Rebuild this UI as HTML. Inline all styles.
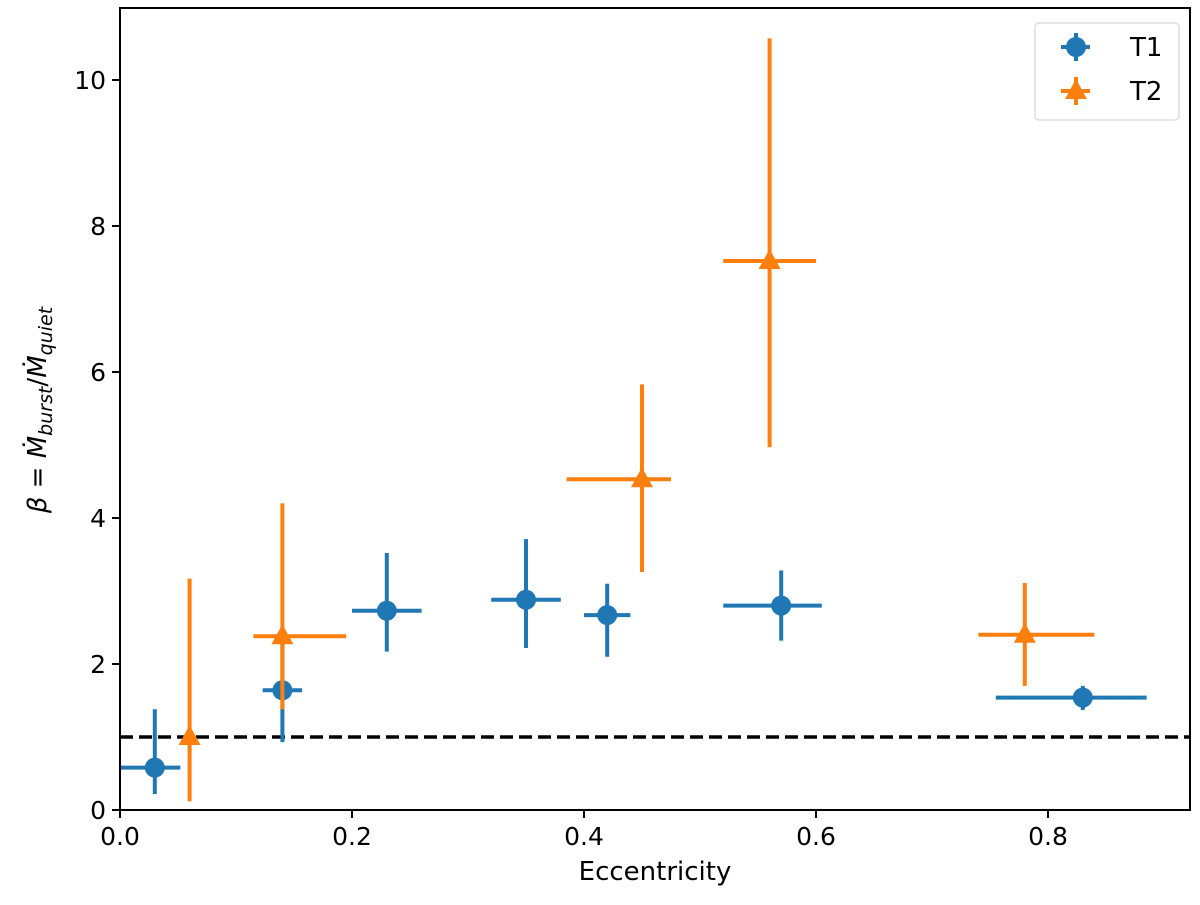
<!DOCTYPE html>
<html><head><meta charset="utf-8"><style>body{margin:0;background:#fff}svg{display:block;font-family:"DejaVu Sans","Liberation Sans",sans-serif}</style></head>
<body>
<svg id="chart" width="1200" height="905"></svg>
<script>
const t1X=[0.03,0.14,0.23,0.35,0.42,0.57,0.83];
const t1Y=[0.58,1.64,2.73,2.88,2.67,2.8,1.54];
const t1XLo=[0.0,0.123,0.2,0.32,0.4,0.52,0.755];
const t1XHi=[0.052,0.157,0.26,0.38,0.44,0.605,0.885];
const t1YLo=[0.22,0.93,2.17,2.22,2.1,2.32,1.37];
const t1YHi=[1.38,2.3,3.52,3.71,3.1,3.28,1.7];
const t2X=[0.06,0.14,0.45,0.56,0.78];
const t2Y=[1.0,2.38,4.53,7.52,2.4];
const t2XLo=[0.06,0.115,0.385,0.52,0.74];
const t2XHi=[0.06,0.195,0.475,0.6,0.84];
const t2YLo=[0.12,1.38,3.26,4.97,1.7];
const t2YHi=[3.17,4.2,5.83,10.57,3.11];
const xTicks=[0,0.2,0.4,0.6,0.8];
const xTickLabels=["0.0","0.2","0.4","0.6","0.8"];
const yTicks=[0,2,4,6,8,10];
const yTickLabels=["0","2","4","6","8","10"];
const refLine=1;

const L=120,R=1190,T=8,B=810;
const sx=v=>L+v*1160;
const sy=v=>B-v*73;
const svg=document.getElementById('chart');
const NS='http://www.w3.org/2000/svg';
function mk(tag,attrs,parent){const e=document.createElementNS(NS,tag);for(const k in attrs)e.setAttribute(k,attrs[k]);(parent||svg).appendChild(e);return e;}

const dash=mk('line',{x1:L,x2:R,y1:sy(refLine),y2:sy(refLine),stroke:'#000','stroke-width':3.5,'stroke-dasharray':'13,6'});



function series(xs,ys,xl,xh,yl,yh,color,shape,name){
  const g=mk('g',{});
  
  
  for(let i=0;i<xs.length;i++){
    const pg=mk('g',{},g);
    
    
    mk('line',{x1:sx(xl[i]),x2:sx(xh[i]),y1:sy(ys[i]),y2:sy(ys[i]),stroke:color,'stroke-width':4},pg);
    mk('line',{x1:sx(xs[i]),x2:sx(xs[i]),y1:sy(yl[i]),y2:sy(yh[i]),stroke:color,'stroke-width':4},pg);
    const cx=sx(xs[i]),cy=sy(ys[i]);
    if(shape==='c')mk('circle',{cx:cx,cy:cy,r:10,fill:color},pg);
    else mk('polygon',{points:`${cx},${cy-12} ${cx+11},${cy+8} ${cx-11},${cy+8}`,fill:color},pg);
  }
}
series(t1X,t1Y,t1XLo,t1XHi,t1YLo,t1YHi,'#1f77b4','c','t1');
series(t2X,t2Y,t2XLo,t2XHi,t2YLo,t2YHi,'#ff7f0e','t','t2');

const frame=mk('rect',{x:L,y:T,width:R-L,height:B-T,fill:'none',stroke:'#000','stroke-width':2});



xTicks.forEach((v,i)=>{
  const tk=mk('line',{x1:sx(v),x2:sx(v),y1:B,y2:B+8,stroke:'#000','stroke-width':2});
  
  
  const t=mk('text',{x:sx(v),y:B+35,'text-anchor':'middle','font-size':25});
  t.textContent=xTickLabels[i];
  
  
});
yTicks.forEach((v,i)=>{
  const tk=mk('line',{x1:L-8,x2:L,y1:sy(v),y2:sy(v),stroke:'#000','stroke-width':2});
  
  
  const t=mk('text',{x:L-14,y:sy(v)+9,'text-anchor':'end','font-size':25});
  t.textContent=yTickLabels[i];
  
  
});
const xt=mk('text',{x:655,y:880,'text-anchor':'middle','font-size':26});
xt.textContent='Eccentricity';



const yt=mk('text',{x:0,y:0,'text-anchor':'middle','font-size':26,transform:'translate(46,410) rotate(-90)'});
yt.innerHTML='<tspan font-style="italic">β</tspan> = <tspan font-style="italic">Ṁ</tspan><tspan font-style="italic" font-size="19" dy="6">burst</tspan><tspan dy="-6">/</tspan><tspan font-style="italic">Ṁ</tspan><tspan font-style="italic" font-size="19" dy="6">quiet</tspan>';



const lg=mk('g',{});


mk('rect',{x:1035,y:23,width:144,height:97,rx:4,fill:'#fff',stroke:'#ddd','stroke-width':1.5},lg);
const e1=mk('g',{},lg);


mk('line',{x1:1061,x2:1090,y1:47,y2:47,stroke:'#1f77b4','stroke-width':4},e1);
mk('line',{x1:1076,x2:1076,y1:33,y2:61,stroke:'#1f77b4','stroke-width':4},e1);
mk('circle',{cx:1076,cy:47,r:10,fill:'#1f77b4'},e1);
const l1=mk('text',{x:1130,y:56,'font-size':26},e1);l1.textContent='T1';
const e2=mk('g',{},lg);


mk('line',{x1:1061,x2:1090,y1:91,y2:91,stroke:'#ff7f0e','stroke-width':4},e2);
mk('line',{x1:1076,x2:1076,y1:77,y2:105,stroke:'#ff7f0e','stroke-width':4},e2);
mk('polygon',{points:'1076,79 1087,99 1065,99',fill:'#ff7f0e'},e2);
const l2=mk('text',{x:1130,y:100,'font-size':26},e2);l2.textContent='T2';
</script>
</body></html>
